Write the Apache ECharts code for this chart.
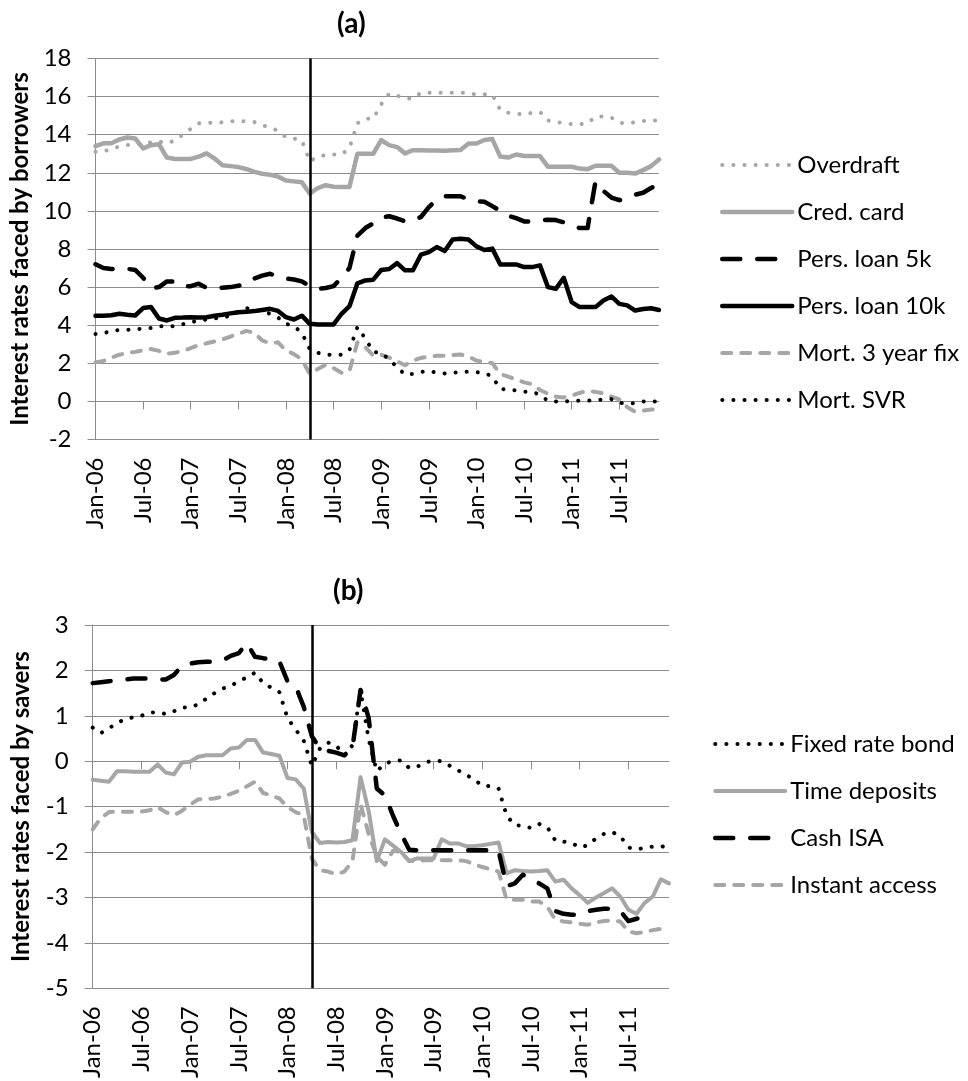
<!DOCTYPE html>
<html>
<head>
<meta charset="utf-8">
<script src="https://cdn.jsdelivr.net/npm/echarts@6/dist/echarts.min.js"></script>
<style>
  html, body { margin: 0; padding: 0; background: #fff; }
  #chart { width: 968px; height: 1081px; }
</style>
</head>
<body>
<div id="chart"></div>
<script>
// monthly categories Jan-06 .. Dec-11
var monthNames = ['Jan', 'Feb', 'Mar', 'Apr', 'May', 'Jun', 'Jul', 'Aug', 'Sep', 'Oct', 'Nov', 'Dec']
var years = ['06', '07', '08', '09', '10', '11']
var months = []
years.forEach(function (y) {
  monthNames.forEach(function (m) { months.push(m + '-' + y) })
})
var eventMonth = 'Apr-08'

// (a) borrowers
var overdraft = [13.1, 13.12, 13.25, 13.38, 13.45, 13.5, 13.57, 13.6, 13.65, 13.55, 13.7, 14.0,
  14.3, 14.6, 14.62, 14.63, 14.65, 14.7, 14.72, 14.7, 14.67, 14.5, 14.38, 14.2,
  13.87, 13.8, 13.7, 12.6, 12.85, 12.93, 12.96, 12.96, 13.3, 14.6, 14.84, 14.84,
  15.6, 16.15, 16.05, 15.9, 15.9, 16.2, 16.2, 16.2, 16.2, 16.2, 16.2, 16.2,
  16.1, 16.12, 16.1, 15.3, 15.15, 15.1, 15.07, 15.15, 15.2, 14.75, 14.65, 14.63,
  14.55, 14.55, 14.6, 14.95, 14.95, 14.9, 14.63, 14.6, 14.65, 14.72, 14.74, 14.75]
var credCard = [13.4, 13.55, 13.55, 13.75, 13.85, 13.8, 13.28, 13.45, 13.5, 12.8, 12.72, 12.72,
  12.73, 12.85, 13.02, 12.75, 12.4, 12.35, 12.3, 12.2, 12.05, 11.95, 11.9, 11.8,
  11.6, 11.55, 11.5, 10.9, 11.2, 11.35, 11.27, 11.26, 11.26, 13.0, 13.0, 13.0,
  13.72, 13.45, 13.35, 13.02, 13.19, 13.19, 13.17, 13.17, 13.16, 13.18, 13.2, 13.54,
  13.54, 13.72, 13.77, 12.85, 12.8, 12.96, 12.88, 12.88, 12.88, 12.32, 12.32, 12.32,
  12.32, 12.22, 12.19, 12.37, 12.37, 12.37, 12.0, 12.0, 11.96, 12.14, 12.35, 12.7]
var persLoan5k = [7.2, 7.0, 6.95, 6.95, 6.96, 6.9, 6.49, 5.95, 6.0, 6.3, 6.3, 6.05,
  6.05, 6.18, 5.96, 5.96, 5.96, 6.0, 6.07, 6.2, 6.45, 6.6, 6.7, 6.53,
  6.45, 6.4, 6.3, 6.05, 5.9, 5.95, 6.05, 6.5, 7.0, 8.7, 9.1, 9.35,
  9.65, 9.72, 9.6, 9.45, 9.5, 9.68, 10.2, 10.6, 10.77, 10.77, 10.77, 10.6,
  10.5, 10.48, 10.25, 10.0, 9.75, 9.62, 9.45, 9.45, 9.5, 9.54, 9.52, 9.4,
  9.25, 9.1, 9.1, 11.55, 11.05, 10.7, 10.56, 10.7, 10.85, 10.95, 11.2, 11.4]
var persLoan10k = [4.5, 4.5, 4.52, 4.6, 4.55, 4.51, 4.9, 4.95, 4.35, 4.25, 4.39, 4.4,
  4.42, 4.4, 4.42, 4.5, 4.55, 4.62, 4.68, 4.7, 4.74, 4.8, 4.86, 4.75,
  4.42, 4.3, 4.5, 4.07, 4.04, 4.04, 4.04, 4.6, 5.0, 6.2, 6.35, 6.39,
  6.9, 6.95, 7.26, 6.88, 6.88, 7.7, 7.84, 8.1, 7.89, 8.5, 8.54, 8.5,
  8.14, 7.95, 8.02, 7.19, 7.19, 7.19, 7.05, 7.05, 7.14, 6.0, 5.91, 6.49,
  5.21, 4.95, 4.95, 4.95, 5.3, 5.51, 5.12, 5.04, 4.77, 4.85, 4.89, 4.8]
var mort3yr = [2.05, 2.12, 2.3, 2.45, 2.54, 2.6, 2.68, 2.75, 2.65, 2.5, 2.55, 2.65,
  2.8, 2.95, 3.05, 3.15, 3.25, 3.4, 3.55, 3.7, 3.6, 3.2, 3.05, 3.1,
  2.67, 2.48, 2.2, 1.44, 1.7, 1.93, 1.75, 1.5, 1.6, 3.1, 2.84, 2.4,
  2.45, 2.3, 2.1, 1.9, 2.14, 2.28, 2.35, 2.4, 2.4, 2.43, 2.46, 2.35,
  2.14, 2.08, 2.0, 1.44, 1.3, 1.15, 1.0, 0.91, 0.6, 0.4, 0.25, 0.21,
  0.3, 0.45, 0.56, 0.5, 0.42, 0.25, 0.1, -0.3, -0.55, -0.48, -0.42, -0.45]
var mortSvr = [3.54, 3.58, 3.7, 3.75, 3.75, 3.8, 3.81, 3.85, 3.95, 3.93, 3.95, 4.05,
  4.15, 4.25, 4.3, 4.35, 4.4, 4.5, 4.7, 4.9, 4.8, 4.75, 4.6, 4.4,
  4.07, 3.95, 3.6, 2.75, 2.55, 2.45, 2.44, 2.45, 2.7, 3.9, 3.3, 2.6,
  2.55, 2.2, 1.8, 1.4, 1.45, 1.55, 1.6, 1.5, 1.47, 1.5, 1.55, 1.56,
  1.53, 1.5, 1.3, 0.65, 0.63, 0.58, 0.51, 0.51, 0.35, 0.03, 0, 0,
  0.03, 0.04, 0.04, 0.06, 0.1, 0.12, -0.08, -0.1, -0.1, 0, 0, 0]

// (b) savers
var fixedBond = [0.74, 0.62, 0.72, 0.85, 0.92, 0.97, 1.0, 1.07, 1.08, 1.04, 1.1, 1.18,
  1.19, 1.25, 1.38, 1.5, 1.6, 1.66, 1.76, 1.85, 1.95, 1.72, 1.62, 1.52,
  0.95, 0.7, 0.45, -0.1, 0.28, 0.41, 0.35, 0.12, 0.35, 1.57, 0.48, -0.22,
  -0.05, 0.0, 0.02, -0.15, -0.12, -0.02, 0.01, 0.0, -0.1, -0.2, -0.3, -0.4,
  -0.54, -0.55, -0.6, -1.2, -1.41, -1.42, -1.47, -1.38, -1.45, -1.75, -1.77, -1.8,
  -1.9, -1.85, -1.7, -1.6, -1.56, -1.65, -1.9, -1.94, -1.91, -1.88, -1.87, -1.91]
var timeDeposits = [-0.41, -0.43, -0.45, -0.22, -0.22, -0.23, -0.23, -0.23, -0.07, -0.25, -0.29, -0.03,
  -0.01, 0.1, 0.13, 0.13, 0.13, 0.28, 0.3, 0.47, 0.47, 0.19, 0.16, 0.12,
  -0.37, -0.4, -0.6, -1.56, -1.8, -1.78, -1.79, -1.78, -1.74, -0.35, -1.1, -2.2,
  -1.72, -1.86, -2.0, -2.2, -2.14, -2.14, -2.14, -1.72, -1.81, -1.81, -1.87, -1.87,
  -1.85, -1.82, -1.79, -2.47, -2.4, -2.42, -2.43, -2.42, -2.4, -2.65, -2.61, -2.8,
  -2.95, -3.12, -3.0, -2.9, -2.8, -2.98, -3.27, -3.36, -3.12, -2.98, -2.6, -2.69]
var cashIsa = [1.72, 1.74, 1.76, 1.78, 1.8, 1.82, 1.82, 1.82, 1.8, 1.8, 1.9, 2.1,
  2.15, 2.18, 2.19, 2.19, 2.22, 2.32, 2.38, 2.6, 2.3, 2.27, 2.25, 2.2,
  1.76, 1.65, 1.2, 0.55, 0.28, 0.23, 0.19, 0.13, 0.3, 1.57, 0.95, -0.6,
  -0.75, -1.2, -1.6, -1.95, -1.96, -1.96, -1.96, -1.96, -1.96, -1.96, -1.96, -1.96,
  -1.96, -1.96, -1.97, -2.75, -2.69, -2.5, -2.6, -2.69, -2.8, -3.3, -3.36, -3.38,
  -3.38, -3.3, -3.27, -3.25, -3.25, -3.3, -3.52, -3.47, -3.43, -3.35, null, null]
var instantAccess = [-1.5, -1.25, -1.12, -1.11, -1.11, -1.11, -1.11, -1.08, -1.01, -1.12, -1.19, -1.09,
  -0.96, -0.84, -0.83, -0.82, -0.78, -0.72, -0.65, -0.55, -0.45, -0.7, -0.76, -0.82,
  -1.01, -1.12, -1.19, -2.15, -2.4, -2.43, -2.49, -2.43, -2.2, -0.95, -1.6, -2.1,
  -2.28, -1.97, -2.0, -2.2, -2.2, -2.18, -2.18, -2.18, -2.18, -2.18, -2.2, -2.27,
  -2.33, -2.38, -2.43, -3.05, -3.05, -3.05, -3.09, -3.09, -3.2, -3.49, -3.53, -3.55,
  -3.58, -3.6, -3.55, -3.52, -3.51, -3.53, -3.75, -3.79, -3.76, -3.72, -3.69, -3.69]

var GRAY = '#a6a6a6'
var AXIS = '#8c8c8c'
var FONT = 'Lato'
var DOTS = [0.1, 11]
var LONG_DASH = [18, 17]
var DASH = [9, 10]

var chart = echarts.init(document.getElementById('chart'), null, { renderer: 'canvas' })

function xAxes (gridIndex) {
  return [
    {
      type: 'category',
      gridIndex: gridIndex,
      data: months,
      boundaryGap: false,
      axisLine: { onZero: true, lineStyle: { color: AXIS, width: 1 } },
      axisTick: { interval: 5, length: 8, lineStyle: { color: AXIS } },
      axisLabel: { show: false },
      splitLine: { show: false }
    },
    {
      type: 'category',
      gridIndex: gridIndex,
      position: 'bottom',
      data: months,
      boundaryGap: false,
      axisLine: { show: false, onZero: false },
      axisTick: { show: false },
      axisLabel: { interval: 5, rotate: 90, margin: 18, fontSize: 24, fontFamily: FONT, color: '#000' },
      splitLine: { show: false }
    }
  ]
}

function yAxis (gridIndex, min, max, step, name, gap) {
  return {
    type: 'value',
    gridIndex: gridIndex,
    min: min,
    max: max,
    interval: step,
    name: name,
    nameLocation: 'middle',
    nameGap: gap,
    nameTextStyle: { fontSize: 24, fontWeight: 'bold', fontFamily: FONT, color: '#000' },
    axisLine: { show: true, lineStyle: { color: AXIS, width: 1 } },
    axisTick: { show: true, length: 8, lineStyle: { color: AXIS } },
    axisLabel: { fontSize: 24, fontFamily: FONT, color: '#000', margin: 24 },
    splitLine: { lineStyle: { color: AXIS, width: 1 } }
  }
}

function line (name, data, color, width, dash, axisIndex) {
  return {
    name: name,
    type: 'line',
    data: data,
    xAxisIndex: axisIndex * 2,
    yAxisIndex: axisIndex,
    symbol: 'none',
    connectNulls: false,
    lineStyle: { color: color, width: width, type: dash, cap: 'round', join: 'round' },
    itemStyle: { color: color },
    emphasis: { disabled: true },
    z: 2
  }
}

// the vertical black event line
function eventLine () {
  return {
    silent: true,
    symbol: ['none', 'none'],
    label: { show: false },
    lineStyle: { color: '#000', width: 2.5, type: 'solid' },
    emphasis: { disabled: true },
    animation: false,
    data: [{ xAxis: eventMonth }]
  }
}

var series = [
  line('Overdraft', overdraft, GRAY, 4, DOTS, 0),
  line('Cred. card', credCard, GRAY, 4.5, 'solid', 0),
  line('Pers. loan 5k', persLoan5k, '#000', 4.5, LONG_DASH, 0),
  line('Pers. loan 10k', persLoan10k, '#000', 4.5, 'solid', 0),
  line('Mort. 3 year fix', mort3yr, GRAY, 4, DASH, 0),
  line('Mort. SVR', mortSvr, '#000', 4, DOTS, 0),
  line('Fixed rate bond', fixedBond, '#000', 4, DOTS, 1),
  line('Time deposits', timeDeposits, GRAY, 4, 'solid', 1),
  line('Cash ISA', cashIsa, '#000', 4.5, LONG_DASH, 1),
  line('Instant access', instantAccess, GRAY, 4, DASH, 1)
]
series[5].markLine = eventLine()
series[9].markLine = eventLine()

var legendBase = {
  orient: 'vertical',
  itemWidth: 70,
  itemHeight: 14,
  itemGap: 17,
  padding: 0,
  selectedMode: false,
  itemStyle: { opacity: 0 },
  lineStyle: { width: 'inherit' },
  textStyle: { fontSize: 24, fontFamily: FONT, color: '#000', lineHeight: 30 }
}

var titleStyle = { fontSize: 28, fontWeight: 'bold', fontFamily: FONT, color: '#000' }

chart.setOption({
  animation: false,
  backgroundColor: '#fff',
  title: [
    { text: '(a)', left: 337, top: 10, padding: 0, textStyle: titleStyle },
    { text: '(b)', left: 333, top: 577, padding: 0, textStyle: titleStyle }
  ],
  grid: [
    { left: 95.5, top: 58.5, width: 563.5, height: 381 },
    { left: 92.7, top: 625, width: 576.3, height: 366 }
  ],
  legend: [
    Object.assign({}, legendBase, {
      left: 720,
      top: 150,
      data: ['Overdraft', 'Cred. card', 'Pers. loan 5k', 'Pers. loan 10k', 'Mort. 3 year fix', 'Mort. SVR']
    }),
    Object.assign({}, legendBase, {
      left: 713,
      top: 729,
      data: ['Fixed rate bond', 'Time deposits', 'Cash ISA', 'Instant access']
    })
  ],
  xAxis: xAxes(0).concat(xAxes(1)),
  yAxis: [
    yAxis(0, -2, 18, 2, 'Interest rates faced by borrowers', 61),
    yAxis(1, -5, 3, 1, 'Interest rates faced by savers', 59)
  ],
  series: series
})
</script>
</body>
</html>
